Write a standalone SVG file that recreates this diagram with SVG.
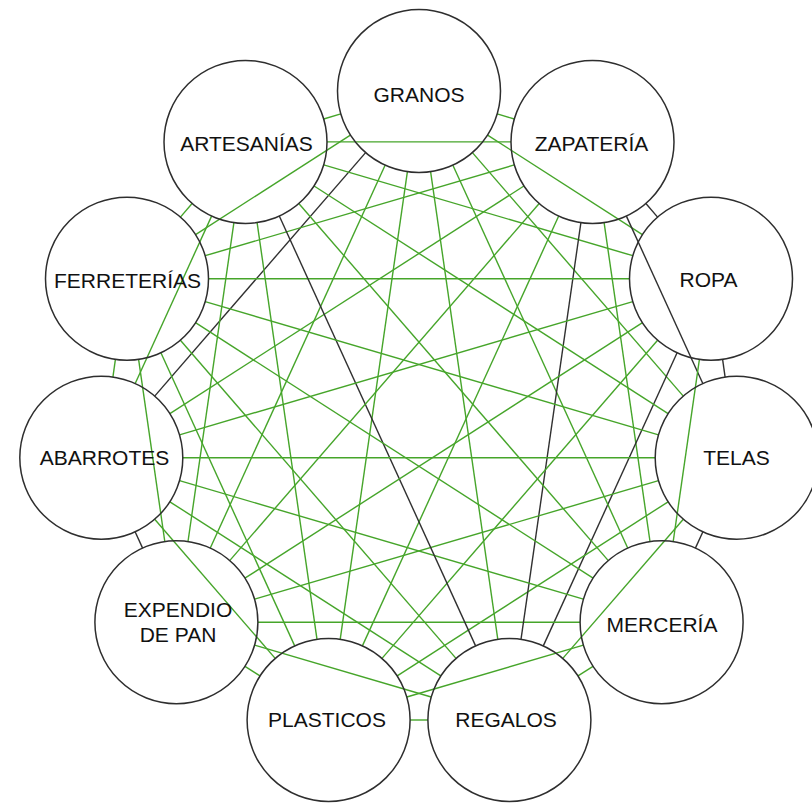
<svg xmlns="http://www.w3.org/2000/svg" width="812" height="806" viewBox="0 0 812 806">
<style>
.bg{fill:#ffffff}
.node circle{fill:none;stroke:#2e2e2e;stroke-width:1.5}
.node text{font-family:"Liberation Sans",Arial,sans-serif;font-size:21px;fill:#111111;text-anchor:middle}
#connectors line{stroke-width:1.4;fill:none}
.gr{stroke:#46a52a}
.dk{stroke:#303030}
</style>
<rect class="bg" x="0" y="0" width="812" height="806"/>
<g id="connectors">
<line class="gr" x1="497.2" y1="113.9" x2="514.3" y2="119.0"/>
<line class="dk" x1="645.9" y1="203.5" x2="657.6" y2="217.1"/>
<line class="dk" x1="722.6" y1="359.3" x2="725.1" y2="377.1"/>
<line class="dk" x1="702.9" y1="531.8" x2="695.4" y2="548.1"/>
<line class="gr" x1="593.0" y1="666.3" x2="578.0" y2="675.9"/>
<line class="gr" x1="427.9" y1="720" x2="410.1" y2="720"/>
<line class="gr" x1="260.0" y1="675.9" x2="245.0" y2="666.3"/>
<line class="dk" x1="142.6" y1="548.1" x2="135.1" y2="531.8"/>
<line class="gr" x1="112.9" y1="377.1" x2="115.4" y2="359.3"/>
<line class="gr" x1="180.4" y1="217.1" x2="192.1" y2="203.5"/>
<line class="gr" x1="323.7" y1="119.0" x2="340.8" y2="113.9"/>

<line class="gr" x1="487.6" y1="135.1" x2="642.4" y2="234.6"/>
<line class="dk" x1="626.4" y1="216.1" x2="702.8" y2="383.5"/>
<line class="gr" x1="699.4" y1="359.4" x2="673.2" y2="541.5"/>
<line class="gr" x1="683.3" y1="519.3" x2="562.8" y2="658.4"/>
<line class="gr" x1="583.4" y1="645.2" x2="406.8" y2="697.0"/>
<line class="gr" x1="431.2" y1="697.0" x2="254.6" y2="645.2"/>
<line class="gr" x1="275.2" y1="658.4" x2="154.7" y2="519.3"/>
<line class="gr" x1="164.8" y1="541.5" x2="138.6" y2="359.4"/>
<line class="gr" x1="135.2" y1="383.5" x2="211.6" y2="216.1"/>
<line class="gr" x1="195.6" y1="234.6" x2="350.4" y2="135.1"/>
<line class="gr" x1="327.0" y1="141.9" x2="511.0" y2="141.9"/>

<line class="gr" x1="472.4" y1="152.6" x2="683.3" y2="396.1"/>
<line class="gr" x1="604.1" y1="222.6" x2="650.0" y2="541.5"/>
<line class="dk" x1="677.1" y1="352.8" x2="543.3" y2="645.9"/>
<line class="gr" x1="668.1" y1="501.8" x2="397.2" y2="675.9"/>
<line class="gr" x1="580.1" y1="622.2" x2="257.9" y2="622.2"/>
<line class="dk" x1="365.6" y1="152.6" x2="154.7" y2="396.1"/>
<line class="gr" x1="233.9" y1="222.6" x2="188.0" y2="541.5"/>
<line class="gr" x1="160.9" y1="352.8" x2="294.7" y2="645.9"/>
<line class="gr" x1="169.9" y1="501.8" x2="440.8" y2="675.9"/>
<line class="gr" x1="323.7" y1="164.9" x2="632.8" y2="255.7"/>
<line class="gr" x1="514.3" y1="164.9" x2="205.2" y2="255.7"/>

<line class="gr" x1="452.9" y1="165.2" x2="627.7" y2="548.0"/>
<line class="dk" x1="580.9" y1="222.6" x2="521.0" y2="639.3"/>
<line class="gr" x1="657.6" y1="340.3" x2="382.0" y2="658.4"/>
<line class="gr" x1="658.5" y1="480.7" x2="254.6" y2="599.2"/>
<line class="gr" x1="208.5" y1="278.7" x2="629.5" y2="278.7"/>
<line class="gr" x1="385.1" y1="165.2" x2="210.3" y2="548.0"/>
<line class="gr" x1="257.1" y1="222.6" x2="317.0" y2="639.3"/>
<line class="gr" x1="180.4" y1="340.3" x2="456.0" y2="658.4"/>
<line class="gr" x1="179.5" y1="480.7" x2="583.4" y2="599.2"/>
<line class="gr" x1="523.9" y1="186.0" x2="169.9" y2="413.6"/>
<line class="gr" x1="314.1" y1="186.0" x2="668.1" y2="413.6"/>

<line class="gr" x1="430.6" y1="171.6" x2="497.8" y2="639.4"/>
<line class="gr" x1="407.4" y1="171.6" x2="340.2" y2="639.4"/>
<line class="gr" x1="558.7" y1="216.0" x2="362.4" y2="645.9"/>
<line class="dk" x1="279.3" y1="216.0" x2="475.6" y2="645.9"/>
<line class="gr" x1="642.5" y1="322.7" x2="244.9" y2="578.2"/>
<line class="gr" x1="195.5" y1="322.7" x2="593.1" y2="578.2"/>
<line class="gr" x1="655.2" y1="457.7" x2="182.8" y2="457.7"/>
<line class="gr" x1="539.2" y1="203.5" x2="229.7" y2="560.6"/>
<line class="gr" x1="298.8" y1="203.5" x2="608.3" y2="560.6"/>
<line class="gr" x1="632.8" y1="301.6" x2="179.5" y2="434.8"/>
<line class="gr" x1="205.2" y1="301.6" x2="658.5" y2="434.8"/>
</g>
<g id="node-granos" class="node"><circle cx="419" cy="91" r="81.5"/><text x="419" y="101.5">GRANOS</text></g>
<g id="node-zapateria" class="node"><circle cx="592.5" cy="141.9" r="81.5"/><text x="591.5" y="150.7">ZAPATERÍA</text></g>
<g id="node-ropa" class="node"><circle cx="711" cy="278.7" r="81.5"/><text x="708.5" y="287">ROPA</text></g>
<g id="node-telas" class="node"><circle cx="736.7" cy="457.7" r="81.5"/><text x="736.5" y="465">TELAS</text></g>
<g id="node-merceria" class="node"><circle cx="661.6" cy="622.2" r="81.5"/><text x="662" y="631.5">MERCERÍA</text></g>
<g id="node-regalos" class="node"><circle cx="509.4" cy="720" r="81.5"/><text x="506" y="726.5">REGALOS</text></g>
<g id="node-plasticos" class="node"><circle cx="328.6" cy="720" r="81.5"/><text x="327" y="726.5">PLASTICOS</text></g>
<g id="node-expendio" class="node"><circle cx="176.4" cy="622.2" r="81.5"/><text x="178" y="616.5">EXPENDIO</text><text x="178" y="641.5">DE PAN</text></g>
<g id="node-abarrotes" class="node"><circle cx="101.3" cy="457.7" r="81.5"/><text x="104.5" y="465">ABARROTES</text></g>
<g id="node-ferreterias" class="node"><circle cx="127" cy="278.7" r="81.5"/><text x="127.5" y="288">FERRETERÍAS</text></g>
<g id="node-artesanias" class="node"><circle cx="245.5" cy="141.9" r="81.5"/><text x="246.5" y="150.7">ARTESANÍAS</text></g>
</svg>
